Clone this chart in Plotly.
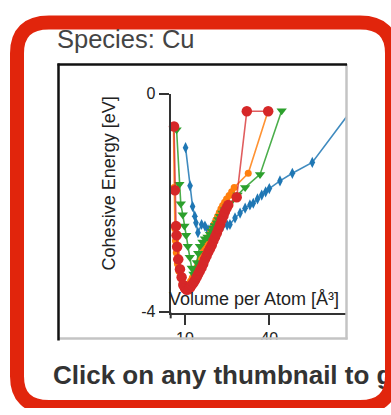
import plotly.graph_objects as go

W, H = 391, 415

# ---------------- text ----------------
species_title = "Species: Cu"
footer_text = "Click on any thumbnail to g"
x_title = "Volume per Atom [Å³]"
y_title = "Cohesive Energy [eV]"
x_tickvals = [10, 40]
x_ticktext = ["10", "40"]
y_tickvals = [0, -4]
y_ticktext = ["0", "-4"]

# ---------------- data (volume per atom [Å³], cohesive energy [eV]) ----------------
blue_x = [10.2, 11.8, 12.7, 13.5, 13.9, 14.6, 15.9, 17.1, 18.2, 19.2, 20.5, 22.0, 23.5, 25.0,
          26.0, 27.8, 29.6, 31.4, 33.1, 34.3, 35.8, 37.3, 38.7, 40.0, 43.8, 48.2, 55.3, 70.0]
blue_y = [-0.99, -1.69, -2.07, -2.25, -2.37, -2.55, -2.40, -2.43, -2.50, -2.47, -2.45, -2.43, -2.42, -2.41,
          -2.40, -2.28, -2.19, -2.10, -2.04, -2.01, -1.93, -1.86, -1.80, -1.74, -1.60, -1.46, -1.26, -0.25]

orange_x = [5.9, 6.1, 6.4, 6.6, 6.9, 7.3, 7.8, 8.4, 9.0, 9.6, 10.2, 10.8, 11.4, 12.0, 12.6, 13.2,
            13.8, 14.4, 15.0, 15.6, 16.2, 16.8, 17.4, 18.0, 18.6, 19.2, 19.8, 20.4, 21.0, 21.6,
            22.2, 22.8, 23.4, 24.1, 24.8, 25.7, 26.6, 27.5, 32.5, 39.6]
orange_y = [-0.62, -1.72, -2.48, -2.70, -2.92, -3.12, -3.26, -3.38, -3.48, -3.53, -3.55, -3.53, -3.49,
            -3.44, -3.38, -3.31, -3.24, -3.17, -3.09, -3.01, -2.93, -2.86, -2.78, -2.70, -2.62, -2.54,
            -2.47, -2.39, -2.32, -2.25, -2.18, -2.11, -2.05, -1.99, -1.93, -1.87, -1.80, -1.72, -1.46, -0.31]

green_x = [7.0, 8.0, 8.5, 9.2, 9.8, 10.4, 11.0, 11.7, 12.4, 13.0, 13.6, 14.2, 14.7, 15.3, 16.2, 17.1,
           18.0, 18.9, 19.5, 20.1, 20.7, 21.3, 21.9, 22.5, 23.3, 24.2, 25.1, 26.0, 28.7, 31.4, 36.7, 44.4]
green_y = [-0.66, -1.66, -2.02, -2.22, -2.43, -2.60, -2.80, -3.00, -3.20, -3.31, -3.22, -3.10, -2.93,
           -2.80, -2.72, -2.66, -2.63, -2.58, -2.52, -2.47, -2.42, -2.37, -2.31, -2.25, -2.19, -2.13,
           -2.07, -2.01, -1.86, -1.72, -1.48, -0.31]

red_x = [6.1, 6.4, 6.8, 7.0, 7.2, 7.6, 8.2, 8.8, 9.4, 10.0, 10.6, 11.2, 11.8, 12.4, 13.0, 13.6, 14.2,
         14.7, 15.3, 15.9, 16.5, 17.1, 17.7, 18.3, 18.9, 19.5, 20.1, 20.7, 21.3, 21.9, 22.5, 23.1,
         23.7, 24.2, 24.8, 25.4, 28.4, 32.0, 39.6]
red_y = [-0.60, -1.77, -2.43, -2.60, -2.81, -3.04, -3.22, -3.37, -3.51, -3.57, -3.60, -3.59, -3.56,
         -3.51, -3.47, -3.42, -3.36, -3.31, -3.25, -3.19, -3.12, -3.04, -2.97, -2.90, -2.84, -2.78,
         -2.70, -2.63, -2.56, -2.48, -2.40, -2.31, -2.24, -2.16, -2.10, -2.04, -1.90, -0.32, -0.32]

FONT = "Liberation Sans, Arial, Helvetica, sans-serif"


def px_x(p):
    return p / W


def px_y(p):
    return 1 - p / H


fig = go.Figure()

series = [
    ("blue", blue_x, blue_y, "#1f77b4", "rgba(31,119,180,0.85)", "diamond-tall", 8, True),
    ("orange", orange_x, orange_y, "#ff7f0e", "rgba(255,127,14,0.85)", "circle", 7, False),
    ("green", green_x, green_y, "#2ca02c", "rgba(44,160,44,0.85)", "triangle-down", 9, False),
    ("red", red_x, red_y, "#d62728", "rgba(214,39,40,0.75)", "circle", 10.5, False),
]
for name, xs, ys, mc, lc, sym, size, clip in series:
    fig.add_trace(go.Scatter(
        x=xs, y=ys, mode="lines+markers", name=name,
        line=dict(color=lc, width=1.6),
        marker=dict(color=mc, symbol=sym, size=size, line=dict(width=0)),
        cliponaxis=clip, xaxis="x", yaxis="y", hoverinfo="skip",
    ))

# footer text drawn as a trace so that the frame can cover its end
fig.add_trace(go.Scatter(
    x=[53], y=[383], mode="text", text=[footer_text], textposition="middle right",
    textfont=dict(family=FONT, size=26, color="#333333", weight="bold"),
    xaxis="x2", yaxis="y2", hoverinfo="skip", cliponaxis=False,
))

axis_common = dict(
    showgrid=False, zeroline=False, showline=True, linecolor="#333333", linewidth=2,
    ticks="outside", ticklen=10, tickwidth=1.5, tickcolor="#333333",
    tickfont=dict(family=FONT, size=16, color="#222222"), fixedrange=True,
)

fig.update_layout(
    width=W, height=H, margin=dict(l=0, r=0, t=0, b=0, pad=0),
    paper_bgcolor="white", plot_bgcolor="rgba(0,0,0,0)", showlegend=False,
    xaxis=dict(domain=[px_x(170.7), px_x(347)], range=[4.91, 67.65],
               tickvals=x_tickvals, ticktext=x_ticktext, anchor="y", **axis_common),
    yaxis=dict(domain=[px_y(316.7), px_y(89)], range=[-4.03, 0],
               tickvals=y_tickvals, ticktext=y_ticktext, anchor="x", **axis_common),
    xaxis2=dict(domain=[0, 1], range=[0, W], visible=False, anchor="y2", fixedrange=True),
    yaxis2=dict(domain=[0, 1], range=[H, 0], visible=False, anchor="x2", fixedrange=True),
)

shapes = []
# clip tick labels below the thumbnail box
shapes.append(dict(type="rect", xref="x2", yref="y2", x0=56, x1=350, y0=344, y1=360,
                   fillcolor="white", line=dict(width=0), layer="above"))
# y-axis extension below the x-axis
shapes.append(dict(type="line", xref="x2", yref="y2", x0=170.7, x1=170.7, y0=316, y1=322,
                   line=dict(color="#333333", width=2), layer="above"))
# thumbnail box border (inset style)
shapes.append(dict(type="line", xref="x2", yref="y2", x0=346.5, x1=346.5, y0=58, y1=344,
                   line=dict(color="#c4c4c4", width=2.5), layer="above"))
shapes.append(dict(type="line", xref="x2", yref="y2", x0=58, x1=347.5, y0=343, y1=343,
                   line=dict(color="#c4c4c4", width=2.5), layer="above"))
shapes.append(dict(type="line", xref="x2", yref="y2", x0=58.5, x1=58.5, y0=57.5, y1=345,
                   line=dict(color="#111111", width=2.5), layer="above"))
shapes.append(dict(type="line", xref="x2", yref="y2", x0=57.5, x1=347, y0=58.5, y1=58.5,
                   line=dict(color="#111111", width=2.5), layer="above"))
# red rounded frame
L, T, R, B, r = 17, 15, 392, 414, 32
path = (f"M {L + r},{T} L {R - r},{T} Q {R},{T} {R},{T + r} L {R},{B - r} Q {R},{B} {R - r},{B} "
        f"L {L + r},{B} Q {L},{B} {L},{B - r} L {L},{T + r} Q {L},{T} {L + r},{T} Z")
shapes.append(dict(type="path", xref="x2", yref="y2", path=path,
                   line=dict(color="#e1250c", width=14), fillcolor="rgba(0,0,0,0)", layer="above"))
fig.update_layout(shapes=shapes)

fig.update_layout(annotations=[
    dict(text=species_title, xref="x2", yref="y2", x=55, y=32, xanchor="left", yanchor="middle",
         showarrow=False, font=dict(family=FONT, size=25.5, color="#444444")),
    dict(text=y_title, xref="x2", yref="y2", x=108.5, y=182.5, xanchor="center", yanchor="middle",
         textangle=-90, showarrow=False, font=dict(family=FONT, size=18, color="#222222")),
    dict(text=x_title, xref="x2", yref="y2", x=254, y=302, xanchor="center", yanchor="middle",
         showarrow=False, font=dict(family=FONT, size=18, color="#222222")),
])

fig.write_html("out.html", config={"displayModeBar": False})
